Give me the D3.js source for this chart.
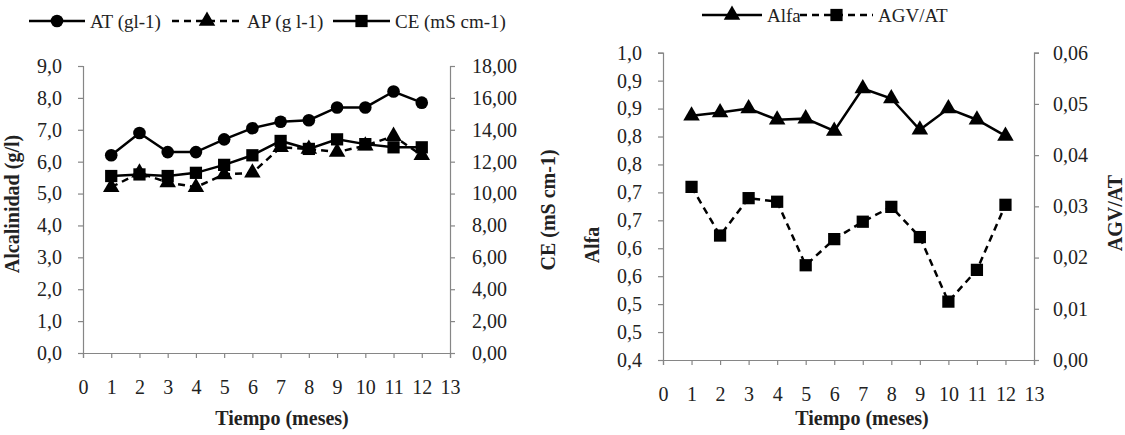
<!DOCTYPE html>
<html>
<head>
<meta charset="utf-8">
<script src="https://cdn.jsdelivr.net/npm/d3@7"></script>
<style>
  body { margin: 0; background: #fff; }
  svg text { font-family: "Liberation Serif", "Times New Roman", serif; fill: #222; }
</style>
</head>
<body>
<div id="chart"></div>
<script>
// Data
const months = [1, 2, 3, 4, 5, 6, 7, 8, 9, 10, 11, 12];
const monthTicks = [0, 1, 2, 3, 4, 5, 6, 7, 8, 9, 10, 11, 12, 13];

// left chart (g l-1 and mS cm-1)
const atVals = [6.2, 6.9, 6.3, 6.3, 6.7, 7.05, 7.25, 7.3, 7.7, 7.7, 8.2, 7.85];
const apVals = [5.2, 5.65, 5.35, 5.2, 5.6, 5.65, 6.45, 6.4, 6.3, 6.5, 6.8, 6.2];
const ceVals = [11.1, 11.2, 11.1, 11.3, 11.8, 12.4, 13.3, 12.8, 13.4, 13.1, 12.9, 12.9];
const alkTicks = [0, 1, 2, 3, 4, 5, 6, 7, 8, 9];
const ceTicks = [0, 2, 4, 6, 8, 10, 12, 14, 16, 18];

// right chart
const alfaVals = [0.837, 0.843, 0.850, 0.830, 0.832, 0.810, 0.886, 0.868, 0.812, 0.850, 0.830, 0.801];
const agvVals = [0.0338, 0.0243, 0.0316, 0.0309, 0.0185, 0.0236, 0.0270, 0.0299, 0.0240, 0.0114, 0.0176, 0.0303];
const alfaTicks = [0.40, 0.45, 0.50, 0.55, 0.60, 0.65, 0.70, 0.75, 0.80, 0.85, 0.90, 0.95];
const agvTicks = [0, 0.01, 0.02, 0.03, 0.04, 0.05, 0.06];

const W = 1125, H = 435;
const axisColor = "#868686";
const fs = 20;

const svg = d3.select("#chart").append("svg")
  .attr("width", W)
  .attr("height", H);

svg.append("rect").attr("width", W).attr("height", H).style("fill", "#fff");

// comma decimal formats
const comma = (n, d) => n.toFixed(d).replace(".", ",");
// Excel style: round half up to one decimal
const roundHalf1 = v => comma(Math.round(Math.round(v * 100) / 10) / 10, 1);

function styleAxis(g) {
  g.select(".domain").attr("stroke", axisColor).attr("stroke-width", 1.2);
  g.selectAll(".tick line").attr("stroke", axisColor).attr("stroke-width", 1.2);
  g.selectAll(".tick text")
    .style("font-size", fs + "px")
    .style("font-family", "Liberation Serif, serif")
    .attr("fill", "#333");
}

const sym = {
  circle: d3.symbol().type(d3.symbolCircle).size(125),
  triangle: d3.symbol().type(d3.symbolTriangle).size(118),
  square: d3.symbol().type(d3.symbolSquare).size(150)
};

function drawSeries(g, vals, x, y, marker, dashed) {
  const line = d3.line().x((d, i) => x(months[i])).y(d => y(d));
  g.append("path")
    .datum(vals)
    .attr("d", line)
    .attr("fill", "none")
    .attr("stroke", "#000")
    .attr("stroke-width", 2.5)
    .attr("stroke-dasharray", dashed ? "7,5" : null);
  g.selectAll(null)
    .data(vals)
    .enter()
    .append("path")
    .attr("d", sym[marker])
    .attr("transform", (d, i) => `translate(${x(months[i])},${y(d)})`)
    .attr("fill", "#000");
}

function legendItem(x0, x1, yy, marker, dashed, label) {
  svg.append("line")
    .attr("x1", x0).attr("x2", x1).attr("y1", yy).attr("y2", yy)
    .attr("stroke", "#000").attr("stroke-width", 2.5)
    .attr("stroke-dasharray", dashed ? "7,5" : null);
  svg.append("path")
    .attr("d", sym[marker])
    .attr("transform", `translate(${(x0 + x1) / 2},${yy})`)
    .attr("fill", "#000");
  svg.append("text")
    .attr("x", x1 + 5).attr("y", yy).attr("dy", "0.35em")
    .style("font-size", "19px")
    .text(label);
}

function vTitle(x, y, label) {
  svg.append("text")
    .attr("transform", `translate(${x},${y}) rotate(-90)`)
    .attr("text-anchor", "middle").attr("dy", "0.35em")
    .style("font-size", fs + "px").style("font-weight", "bold")
    .text(label);
}

// ---------- Left chart ----------
const L = { left: 83, right: 450, top: 66, bottom: 353 };
const x1 = d3.scaleLinear().domain([0, 13]).range([L.left, L.right]);
const yAlk = d3.scaleLinear().domain([0, 9]).range([L.bottom, L.top]);
const yCE = d3.scaleLinear().domain([0, 18]).range([L.bottom, L.top]);

svg.append("g").attr("transform", `translate(${L.left},0)`)
  .call(d3.axisLeft(yAlk).tickValues(alkTicks).tickFormat(d => comma(d, 1)).tickSize(5).tickPadding(16))
  .call(styleAxis);
svg.append("g").attr("transform", `translate(${L.right},0)`)
  .call(d3.axisRight(yCE).tickValues(ceTicks).tickFormat(d => comma(d, 2)).tickSize(5).tickPadding(17))
  .call(styleAxis);
svg.append("g").attr("transform", `translate(0,${L.bottom})`)
  .call(d3.axisBottom(x1).tickValues(monthTicks).tickFormat(d3.format("d")).tickSize(5).tickPadding(22))
  .call(styleAxis);

const gL = svg.append("g");
drawSeries(gL, ceVals, x1, yCE, "square", false);
drawSeries(gL, apVals, x1, yAlk, "triangle", true);
drawSeries(gL, atVals, x1, yAlk, "circle", false);

svg.append("text")
  .attr("x", 282).attr("y", 425).attr("text-anchor", "middle")
  .style("font-size", fs + "px").style("font-weight", "bold")
  .text("Tiempo (meses)");
vTitle(12, 204, "Alcalinidad (g/l)");
vTitle(548, 210, "CE (mS cm-1)");

legendItem(29, 85, 21, "circle", false, "AT (gl-1)");
legendItem(172, 242, 21, "triangle", true, "AP (g l-1)");
legendItem(333, 390, 21, "square", false, "CE (mS cm-1)");

// ---------- Right chart ----------
const R = { left: 663, right: 1034, top: 52.7, bottom: 360 };
const x2 = d3.scaleLinear().domain([0, 13]).range([R.left, R.right]);
const yAlfa = d3.scaleLinear().domain([0.40, 0.95]).range([R.bottom, R.top]);
const yAGV = d3.scaleLinear().domain([0, 0.06]).range([R.bottom, R.top]);

svg.append("g").attr("transform", `translate(${R.left},0)`)
  .call(d3.axisLeft(yAlfa).tickValues(alfaTicks).tickFormat(roundHalf1).tickSize(5).tickPadding(16))
  .call(styleAxis);
svg.append("g").attr("transform", `translate(${R.right},0)`)
  .call(d3.axisRight(yAGV).tickValues(agvTicks).tickFormat(d => comma(d, 2)).tickSize(5).tickPadding(14))
  .call(styleAxis);
svg.append("g").attr("transform", `translate(0,${R.bottom})`)
  .call(d3.axisBottom(x2).tickValues(monthTicks).tickFormat(d3.format("d")).tickSize(5).tickPadding(22))
  .call(styleAxis);

const gR = svg.append("g");
drawSeries(gR, agvVals, x2, yAGV, "square", true);
drawSeries(gR, alfaVals, x2, yAlfa, "triangle", false);

svg.append("text")
  .attr("x", 862).attr("y", 425).attr("text-anchor", "middle")
  .style("font-size", fs + "px").style("font-weight", "bold")
  .text("Tiempo (meses)");
vTitle(592, 245, "Alfa");
vTitle(1115, 213, "AGV/AT");

legendItem(702, 762, 15, "triangle", false, "Alfa");
legendItem(800, 873, 15, "square", true, "AGV/AT");
</script>
</body>
</html>
